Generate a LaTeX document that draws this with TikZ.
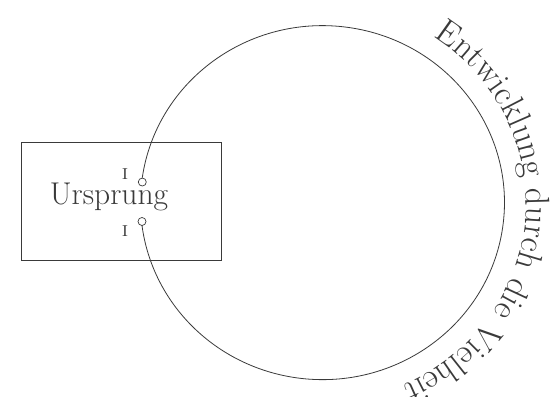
\documentclass[tikz,border=0pt]{standalone}
\usepackage{fontspec}
\usetikzlibrary{decorations.text}
\definecolor{ink}{HTML}{3A3A3A}
\begin{document}
\begin{tikzpicture}[x=1pt,y=1pt,
  line/.style={draw=ink, line width=0.8pt},
  port/.style={circle, draw=ink, line width=0.7pt, fill=white, inner sep=0pt, minimum size=8pt},
  big/.style={font=\fontsize{31.5}{36}\selectfont, text=ink, inner sep=0pt},
  numeral/.style={font=\fontsize{21}{24}\selectfont\scshape, text=ink, inner sep=0pt}]
\fill[white] (0,0) rectangle (553,396);
\useasboundingbox (0,0) rectangle (553,396);
\clip (0,0) rectangle (553,396);
% centre of the large loop
\coordinate (c) at (323,193);
% the origin box and its label
\node[line, minimum width=200pt, minimum height=118pt, inner sep=0pt] (box) at (121,195) {};
\node[big, anchor=base] (origin) at (109,191) {Ursprung};
% the two open ends of the loop
\node[port] (top) at ([shift={(c)}]173.2:182 and 177) {};
\node[port] (bot) at ([shift={(c)}]186.0:182 and 177) {};
\node[numeral] (ta) at (125,222) {i};
\node[numeral] (ba) at (125,165) {i};
% the loop itself, running clockwise from one end to the other
\draw[line] (top.north) arc[start angle=171.9, end angle=-172.7, x radius=182, y radius=177];
% curved caption outside the loop
\path[decorate, decoration={text along path, text align=left, text color=ink,
    text={|\fontsize{34.5}{40}\selectfont|Entwicklung durch die Vielheit}}]
  ([shift={(c)}]57:203 and 198) arc[start angle=57, end angle=-110, x radius=203, y radius=198];
\end{tikzpicture}
\end{document}
